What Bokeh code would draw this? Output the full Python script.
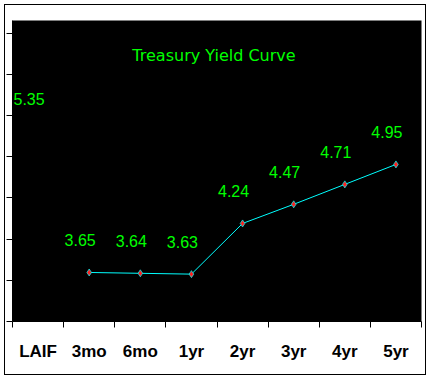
from bokeh.plotting import figure
from bokeh.models import Range1d, FixedTicker, Label
from bokeh.embed import file_html
from bokeh.resources import INLINE
from bokeh.core.properties import value

# ---- data ----
categories = ["LAIF", "3mo", "6mo", "1yr", "2yr", "3yr", "4yr", "5yr"]
yields = [5.35, 3.65, 3.64, 3.63, 4.24, 4.47, 4.71, 4.95]
curve_categories = ["3mo", "6mo", "1yr", "2yr", "3yr", "4yr", "5yr"]
curve_yields = [3.65, 3.64, 3.63, 4.24, 4.47, 4.71, 4.95]
title_text = "Treasury Yield Curve"
y_tick_values = [3.06, 3.553, 4.047, 4.552, 5.046, 5.539, 6.032, 6.526]

# category slot centers on a numeric axis
cat_index = {c: i for i, c in enumerate(categories)}
cat_x = [cat_index[c] + 0.5 for c in categories]
curve_x = [cat_index[c] + 0.5 for c in curve_categories]
boundaries = list(range(len(categories) + 1))

p = figure(width=422, height=371,
           x_range=Range1d(0, len(categories)), y_range=Range1d(3.06, 6.682),
           output_backend="svg", toolbar_location=None,
           min_border_left=7, min_border_right=6, min_border_top=15, min_border_bottom=55)
p.styles = {"border": "1px solid black", "margin": "4px"}
p.background_fill_color = "black"
p.border_fill_color = "white"
p.outline_line_color = None
p.xgrid.visible = False
p.ygrid.visible = False

ya = p.yaxis[0]
ya.ticker = FixedTicker(ticks=[], minor_ticks=y_tick_values)
ya.major_tick_out = 0
ya.major_tick_in = 0
ya.minor_tick_out = 6
ya.minor_tick_in = 0
ya.minor_tick_line_color = "black"
ya.major_label_standoff = 0
ya.axis_line_color = "black"

xa = p.xaxis[0]
xa.ticker = FixedTicker(ticks=cat_x, minor_ticks=boundaries)
xa.major_tick_out = 0
xa.major_tick_in = 0
xa.minor_tick_out = 6
xa.minor_tick_in = 0
xa.minor_tick_line_color = "black"
xa.axis_line_color = "black"
xa.major_label_overrides = {x: c for x, c in zip(cat_x, categories)}
xa.major_label_text_font = "Liberation Sans"
xa.major_label_text_font_style = "bold"
xa.major_label_text_font_size = "17px"
xa.major_label_text_color = "black"
xa.major_label_standoff = 14

p.line(curve_x, curve_yields, line_color="#00FFFF", line_width=1)
p.scatter(curve_x, curve_yields, marker="diamond", size=7,
          fill_color="#FF2020", line_color="#00FFFF", line_width=1, line_alpha=0.7)

p.text(x=cat_x, y=yields, text=[f"{v:.2f}" for v in yields],
       text_color="#00FF00", text_font=value("Liberation Sans"),
       text_font_size="16px", text_align="center", text_baseline="middle",
       x_offset=-9, y_offset=-32)

p.add_layout(Label(x=len(categories) / 2, y=6.261, text=title_text,
                   text_color="#00FF00", text_font="DejaVu Sans",
                   text_font_size="16px", text_align="center",
                   text_baseline="middle", x_offset=-3))

open("out.html", "w").write(file_html(p, INLINE))
